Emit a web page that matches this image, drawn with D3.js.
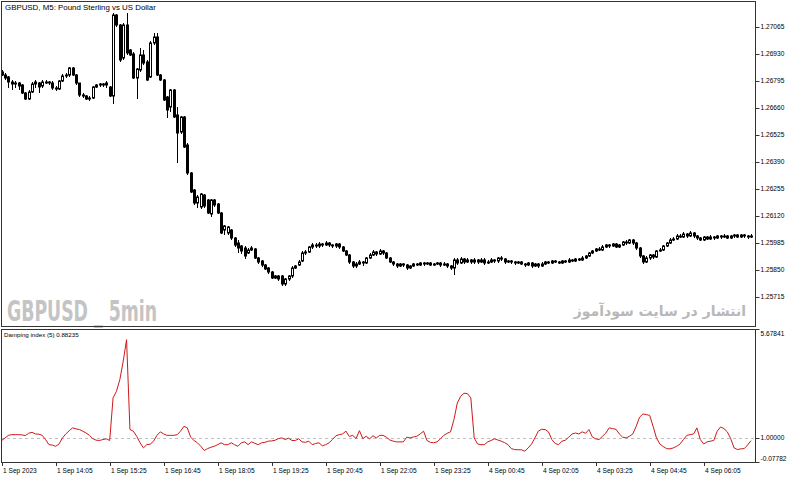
<!DOCTYPE html>
<html>
<head>
<meta charset="utf-8">
<script src="https://cdn.jsdelivr.net/npm/d3@7"></script>
<style>
  body { margin: 0; background: #fff; }
  text { font-family: "Liberation Sans", Arial, sans-serif; }
</style>
</head>
<body>
<div id="chart"></div>
<script>
// GBPUSD M5 candles, 1 Sep 2023 12:45 .. 4 Sep ~07:20
var opens = [1.26840,1.26825,1.26815,1.26790,1.26780,1.26785,1.26775,1.26735,1.26705,1.26740,1.26780,1.26785,1.26770,1.26790,1.26790,1.26785,1.26760,1.26755,1.26795,1.26820,
  1.26825,1.26860,1.26825,1.26785,1.26725,1.26720,1.26705,1.26710,1.26765,1.26775,1.26780,1.26775,1.26765,1.26720,1.27125,1.27075,1.26910,1.27075,1.26950,1.26930,
  1.26810,1.26850,1.26925,1.26890,1.26815,1.26985,1.27015,1.26825,1.26800,1.26715,1.26665,1.26750,1.26625,1.26540,1.26615,1.26475,1.26335,1.26250,1.26185,1.26165,
  1.26225,1.26200,1.26130,1.26200,1.26180,1.26135,1.26050,1.26035,1.26050,1.26010,1.25985,1.25970,1.25960,1.25935,1.25950,1.25955,1.25910,1.25895,1.25875,1.25860,
  1.25840,1.25810,1.25820,1.25820,1.25780,1.25805,1.25820,1.25860,1.25875,1.25895,1.25935,1.25940,1.25965,1.25975,1.25970,1.25980,1.25975,1.25985,1.25975,1.25970,
  1.25980,1.25965,1.25945,1.25925,1.25890,1.25870,1.25880,1.25890,1.25885,1.25910,1.25925,1.25940,1.25930,1.25945,1.25935,1.25910,1.25890,1.25880,1.25870,1.25880,
  1.25875,1.25860,1.25870,1.25880,1.25875,1.25885,1.25880,1.25885,1.25875,1.25880,1.25885,1.25875,1.25880,1.25870,1.25860,1.25900,1.25885,1.25905,1.25890,1.25900,
  1.25890,1.25900,1.25890,1.25900,1.25885,1.25890,1.25900,1.25895,1.25910,1.25905,1.25890,1.25895,1.25890,1.25885,1.25890,1.25880,1.25875,1.25885,1.25870,1.25880,
  1.25870,1.25880,1.25890,1.25885,1.25895,1.25890,1.25885,1.25895,1.25890,1.25900,1.25895,1.25905,1.25900,1.25910,1.25920,1.25935,1.25945,1.25955,1.25950,1.25965,
  1.25975,1.25970,1.25980,1.25965,1.25975,1.25990,1.25985,1.26000,1.25985,1.25960,1.25920,1.25890,1.25910,1.25925,1.25915,1.25945,1.25950,1.25970,1.25985,1.26000,
  1.26005,1.26020,1.26015,1.26030,1.26020,1.26035,1.26020,1.26010,1.26000,1.26015,1.26005,1.26015,1.26010,1.26020,1.26015,1.26020,1.26010,1.26020,1.26025,1.26015,
  1.26025,1.26020,1.26015];
var highs = [1.26850,1.26835,1.26820,1.26800,1.26795,1.26790,1.26780,1.26740,1.26750,1.26790,1.26800,1.26790,1.26800,1.26800,1.26795,1.26795,1.26770,1.26800,1.26830,1.26835,
  1.26865,1.26865,1.26830,1.26785,1.26735,1.26725,1.26720,1.26770,1.26780,1.26785,1.26785,1.26795,1.26770,1.27135,1.27130,1.27080,1.27085,1.27135,1.26955,1.26940,
  1.26860,1.26960,1.26950,1.26900,1.26995,1.27035,1.27035,1.26830,1.26805,1.26720,1.26755,1.26755,1.26665,1.26620,1.26620,1.26485,1.26340,1.26255,1.26225,1.26235,
  1.26230,1.26205,1.26205,1.26205,1.26185,1.26140,1.26075,1.26070,1.26055,1.26015,1.26000,1.25975,1.25970,1.25960,1.25970,1.25960,1.25915,1.25900,1.25880,1.25865,
  1.25845,1.25825,1.25825,1.25825,1.25810,1.25825,1.25870,1.25875,1.25900,1.25945,1.25950,1.25970,1.25985,1.25985,1.25990,1.25985,1.25995,1.25990,1.25980,1.25985,
  1.25985,1.25970,1.25950,1.25930,1.25895,1.25890,1.25900,1.25895,1.25915,1.25935,1.25950,1.25945,1.25955,1.25950,1.25940,1.25915,1.25895,1.25885,1.25885,1.25885,
  1.25880,1.25875,1.25885,1.25885,1.25890,1.25890,1.25890,1.25890,1.25885,1.25890,1.25890,1.25890,1.25885,1.25875,1.25910,1.25910,1.25915,1.25910,1.25910,1.25905,
  1.25910,1.25905,1.25910,1.25910,1.25900,1.25910,1.25905,1.25915,1.25920,1.25910,1.25900,1.25900,1.25895,1.25895,1.25895,1.25885,1.25890,1.25890,1.25885,1.25885,
  1.25890,1.25895,1.25895,1.25900,1.25900,1.25895,1.25900,1.25900,1.25910,1.25905,1.25910,1.25910,1.25920,1.25925,1.25940,1.25950,1.25960,1.25965,1.25975,1.25980,
  1.25980,1.25985,1.25985,1.25980,1.25995,1.26000,1.26005,1.26005,1.25990,1.25965,1.25925,1.25920,1.25930,1.25930,1.25950,1.25960,1.25975,1.25990,1.26010,1.26015,
  1.26030,1.26030,1.26040,1.26035,1.26045,1.26040,1.26025,1.26015,1.26020,1.26020,1.26025,1.26020,1.26025,1.26025,1.26030,1.26025,1.26025,1.26030,1.26030,1.26030,
  1.26030,1.26025,1.26030];
var lows = [1.26820,1.26800,1.26760,1.26750,1.26760,1.26750,1.26730,1.26700,1.26700,1.26735,1.26760,1.26735,1.26760,1.26780,1.26775,1.26750,1.26745,1.26750,1.26790,1.26810,
  1.26815,1.26820,1.26775,1.26715,1.26710,1.26700,1.26695,1.26705,1.26760,1.26765,1.26765,1.26760,1.26715,1.26680,1.27065,1.26890,1.26900,1.26925,1.26920,1.26805,
  1.26705,1.26840,1.26875,1.26795,1.26810,1.26975,1.26820,1.26795,1.26695,1.26610,1.26640,1.26610,1.26385,1.26530,1.26460,1.26325,1.26235,1.26175,1.26160,1.26155,
  1.26160,1.26130,1.26115,1.26165,1.26130,1.26030,1.26025,1.26025,1.26000,1.25965,1.25935,1.25930,1.25905,1.25930,1.25945,1.25905,1.25880,1.25865,1.25850,1.25830,
  1.25805,1.25805,1.25795,1.25770,1.25770,1.25795,1.25810,1.25855,1.25870,1.25890,1.25925,1.25935,1.25955,1.25960,1.25960,1.25965,1.25970,1.25965,1.25960,1.25960,
  1.25955,1.25940,1.25920,1.25880,1.25860,1.25860,1.25875,1.25870,1.25880,1.25905,1.25920,1.25920,1.25925,1.25925,1.25905,1.25885,1.25870,1.25860,1.25865,1.25865,
  1.25850,1.25855,1.25865,1.25870,1.25870,1.25870,1.25875,1.25870,1.25870,1.25875,1.25865,1.25870,1.25860,1.25850,1.25825,1.25875,1.25880,1.25880,1.25885,1.25880,
  1.25880,1.25880,1.25885,1.25875,1.25880,1.25885,1.25885,1.25885,1.25895,1.25880,1.25885,1.25880,1.25875,1.25880,1.25875,1.25865,1.25870,1.25860,1.25865,1.25860,
  1.25865,1.25875,1.25880,1.25880,1.25885,1.25880,1.25880,1.25885,1.25885,1.25890,1.25890,1.25895,1.25895,1.25905,1.25915,1.25930,1.25940,1.25945,1.25945,1.25960,
  1.25960,1.25965,1.25960,1.25960,1.25970,1.25975,1.25980,1.25975,1.25950,1.25910,1.25880,1.25885,1.25900,1.25905,1.25910,1.25940,1.25945,1.25965,1.25980,1.25995,
  1.26000,1.26010,1.26010,1.26010,1.26015,1.26010,1.26000,1.25995,1.25995,1.26000,1.26000,1.26000,1.26005,1.26005,1.26010,1.26005,1.26005,1.26010,1.26010,1.26010,
  1.26010,1.26005,1.26010];
var closes = [1.26825,1.26810,1.26790,1.26780,1.26785,1.26770,1.26735,1.26705,1.26740,1.26780,1.26790,1.26765,1.26790,1.26785,1.26785,1.26760,1.26755,1.26795,1.26820,1.26825,
  1.26860,1.26825,1.26785,1.26725,1.26720,1.26705,1.26710,1.26765,1.26775,1.26780,1.26775,1.26785,1.26720,1.27125,1.27075,1.26900,1.27075,1.26935,1.26925,1.26810,
  1.26855,1.26925,1.26885,1.26800,1.26985,1.27015,1.26825,1.26800,1.26700,1.26650,1.26750,1.26615,1.26535,1.26615,1.26465,1.26335,1.26240,1.26185,1.26215,1.26230,
  1.26170,1.26135,1.26200,1.26175,1.26135,1.26035,1.26070,1.26065,1.26010,1.25975,1.25960,1.25945,1.25920,1.25950,1.25960,1.25910,1.25890,1.25875,1.25855,1.25840,
  1.25810,1.25820,1.25805,1.25780,1.25805,1.25820,1.25860,1.25870,1.25890,1.25935,1.25940,1.25965,1.25975,1.25970,1.25980,1.25975,1.25985,1.25975,1.25970,1.25980,
  1.25965,1.25945,1.25925,1.25890,1.25870,1.25880,1.25890,1.25885,1.25910,1.25925,1.25940,1.25930,1.25945,1.25935,1.25910,1.25890,1.25880,1.25870,1.25880,1.25875,
  1.25860,1.25870,1.25880,1.25875,1.25885,1.25880,1.25885,1.25875,1.25880,1.25885,1.25875,1.25880,1.25870,1.25860,1.25900,1.25885,1.25905,1.25890,1.25900,1.25890,
  1.25900,1.25890,1.25900,1.25885,1.25890,1.25900,1.25895,1.25910,1.25905,1.25890,1.25895,1.25890,1.25885,1.25890,1.25880,1.25875,1.25885,1.25870,1.25880,1.25870,
  1.25880,1.25890,1.25885,1.25895,1.25890,1.25885,1.25895,1.25890,1.25900,1.25895,1.25905,1.25900,1.25910,1.25920,1.25935,1.25945,1.25955,1.25950,1.25965,1.25975,
  1.25970,1.25980,1.25965,1.25975,1.25990,1.25985,1.26000,1.25985,1.25960,1.25920,1.25890,1.25910,1.25925,1.25915,1.25945,1.25950,1.25970,1.25985,1.26000,1.26005,
  1.26020,1.26015,1.26030,1.26020,1.26035,1.26020,1.26010,1.26000,1.26015,1.26005,1.26015,1.26010,1.26020,1.26015,1.26020,1.26010,1.26020,1.26025,1.26015,1.26025,
  1.26020,1.26015,1.26020];

// Damping index (5)
var damping = [0.89,1.00,1.11,1.14,1.14,1.14,1.13,1.10,1.20,1.24,1.17,1.16,1.11,0.93,0.71,0.69,0.64,0.74,1.00,1.17,
  1.31,1.43,1.39,1.36,1.29,1.21,1.11,0.97,0.90,0.89,0.93,0.96,0.89,2.72,3.00,3.50,4.29,5.22,1.36,1.29,
  1.07,0.79,0.57,0.71,0.73,0.86,1.11,1.26,1.17,1.11,1.11,1.11,1.14,1.29,1.50,1.43,1.03,0.89,0.79,0.64,
  0.46,0.54,0.60,0.64,0.71,0.79,0.71,0.71,0.79,0.71,0.64,0.79,0.83,0.71,0.83,0.77,0.71,0.79,0.81,0.86,
  0.87,0.90,0.97,1.00,0.93,0.99,0.89,0.89,0.96,0.83,0.81,0.86,0.71,0.76,0.79,0.66,0.71,0.79,0.93,1.09,
  1.14,1.17,1.29,1.06,1.11,0.97,1.31,0.97,1.07,0.96,1.09,1.00,1.11,1.11,1.03,0.91,0.86,0.83,0.83,0.83,
  1.03,1.00,1.04,1.07,1.17,1.29,0.89,0.81,0.79,0.83,0.96,1.11,1.20,1.26,1.79,2.50,2.79,2.92,2.90,2.72,
  1.00,0.74,0.71,0.71,0.83,0.89,0.96,0.91,0.86,0.80,0.71,0.54,0.50,0.49,0.49,0.43,0.57,0.74,1.00,1.29,
  1.37,1.36,1.26,0.93,0.76,0.71,0.86,0.90,1.03,1.17,1.21,1.17,1.26,1.20,1.36,1.04,0.96,0.93,1.07,1.21,
  1.43,1.40,1.37,1.17,1.03,1.00,1.07,1.17,1.50,1.89,2.03,2.00,1.97,1.50,1.00,0.74,0.63,0.54,0.53,0.57,
  0.64,0.74,0.93,1.11,1.14,1.17,1.43,0.93,0.74,0.83,0.86,0.89,1.29,1.47,1.40,1.26,0.97,0.57,0.50,0.53,
  0.54,0.69,0.88235];

var priceTicks = [1.27065,1.26930,1.26795,1.26660,1.26525,1.26390,1.26255,1.26120,1.25985,1.25850,1.25715];
var dampTicks = [5.67841,1.00000,-0.07782];
var timeLabels = ["1 Sep 2023","1 Sep 14:05","1 Sep 15:25","1 Sep 16:45","1 Sep 18:05","1 Sep 19:25","1 Sep 20:45",
  "1 Sep 22:05","1 Sep 23:25","4 Sep 00:45","4 Sep 02:05","4 Sep 03:25","4 Sep 04:45","4 Sep 06:05"];
var labelEvery = 16; // bars between time labels

var width = 800, height = 481;
var left = 1, right = 755;
var mainTop = 1, mainBottom = 326;
var subTop = 329, subBottom = 462;

var svg = d3.select("#chart").append("svg")
    .attr("width", width)
    .attr("height", height);

var x = d3.scaleLinear()
    .domain([0, closes.length - 1])
    .range([1.7, 1.7 + (closes.length - 1) * 3.375]);

var y = d3.scaleLinear()
    .domain([1.2557, 1.27195])
    .range([mainBottom, mainTop]);

var yd = d3.scaleLinear()
    .domain([-0.07782, 5.67841])
    .range([463, 329]);

var bars = d3.range(closes.length).map(function(i) {
    return { i: i, o: opens[i], h: highs[i], l: lows[i], c: closes[i] };
});

// watermarks (under the candles)
svg.append("text")
    .attr("x", 7)
    .attr("y", 321)
    .attr("textLength", 150)
    .attr("lengthAdjust", "spacingAndGlyphs")
    .style("font-family", "'Liberation Sans Narrow', 'DejaVu Sans Condensed', sans-serif")
    .style("font-weight", "bold")
    .style("font-size", "28px")
    .attr("fill", "#c4c4c4")
    .text("GBPUSD _ 5min");

svg.append("text")
    .attr("x", 746)
    .attr("y", 316)
    .attr("text-anchor", "end")
    .style("font-family", "'DejaVu Sans', sans-serif")
    .style("font-weight", "bold")
    .style("font-size", "14px")
    .attr("fill", "#b8b8b8")
    .text("انتشار در سایت سودآموز");

// candles
var cg = svg.append("g");
cg.selectAll("line")
    .data(bars)
    .enter().append("line")
    .attr("x1", function(d) { return Math.round(x(d.i)) + 0.5; })
    .attr("x2", function(d) { return Math.round(x(d.i)) + 0.5; })
    .attr("y1", function(d) { return y(d.h); })
    .attr("y2", function(d) { return y(d.l); })
    .attr("stroke", "#000")
    .attr("stroke-width", 1);

cg.selectAll("rect")
    .data(bars)
    .enter().append("rect")
    .attr("x", function(d) { return Math.round(x(d.i)) - 0.5; })
    .attr("y", function(d) { return y(Math.max(d.o, d.c)); })
    .attr("width", 2)
    .attr("height", function(d) { return Math.max(1, Math.abs(y(d.o) - y(d.c))); })
    .attr("fill", function(d) { return d.c >= d.o ? "#fff" : "#000"; })
    .attr("stroke", "#000")
    .attr("stroke-width", 1);

// damping index
svg.append("line")
    .attr("x1", left).attr("x2", right)
    .attr("y1", Math.round(yd(1)) + 0.5).attr("y2", Math.round(yd(1)) + 0.5)
    .attr("stroke", "#c0c0c0")
    .attr("stroke-dasharray", "3,3");

svg.append("path")
    .datum(damping)
    .attr("fill", "none")
    .attr("stroke", "#d01818")
    .attr("stroke-width", 1)
    .attr("d", d3.line()
        .x(function(d, i) { return x(i); })
        .y(function(d) { return yd(d); }));

// frames
svg.append("rect")
    .attr("x", left + 0.5).attr("y", mainTop + 0.5)
    .attr("width", right - left).attr("height", mainBottom - mainTop)
    .attr("fill", "none").attr("stroke", "#333");
svg.append("rect")
    .attr("x", left + 0.5).attr("y", subTop + 0.5)
    .attr("width", right - left).attr("height", subBottom - subTop)
    .attr("fill", "none").attr("stroke", "#333");

// price axis
var pa = svg.append("g").attr("transform", "translate(" + (right + 0.5) + ",0)");
pa.selectAll("line")
    .data(priceTicks)
    .enter().append("line")
    .attr("x1", 0).attr("x2", 4)
    .attr("y1", function(d) { return Math.round(y(d)) + 0.5; })
    .attr("y2", function(d) { return Math.round(y(d)) + 0.5; })
    .attr("stroke", "#333");
pa.selectAll("text")
    .data(priceTicks)
    .enter().append("text")
    .attr("x", 5)
    .attr("y", function(d) { return y(d); })
    .attr("dy", "0.35em")
    .style("font-size", "6.6px")
    .text(function(d) { return d.toFixed(5); });

// damping axis
var da = svg.append("g").attr("transform", "translate(" + (right + 0.5) + ",0)");
da.selectAll("line")
    .data(dampTicks)
    .enter().append("line")
    .attr("x1", 0).attr("x2", 4)
    .attr("y1", function(d) { return Math.min(subBottom, Math.max(subTop, Math.round(yd(d)))) + 0.5; })
    .attr("y2", function(d) { return Math.min(subBottom, Math.max(subTop, Math.round(yd(d)))) + 0.5; })
    .attr("stroke", "#333");
da.selectAll("text")
    .data(dampTicks)
    .enter().append("text")
    .attr("x", 5)
    .attr("y", function(d, i) {
        if (i === 0) return subTop + 7;
        if (i === dampTicks.length - 1) return subBottom - 1;
        return yd(d) + 2.3;
    })
    .style("font-size", "6.6px")
    .text(function(d) { return d.toFixed(5); });

// time axis
var ta = svg.append("g");
ta.selectAll("line")
    .data(timeLabels)
    .enter().append("line")
    .attr("x1", function(d, i) { return Math.round(x(i * labelEvery)) + 0.5; })
    .attr("x2", function(d, i) { return Math.round(x(i * labelEvery)) + 0.5; })
    .attr("y1", subBottom).attr("y2", subBottom + 4)
    .attr("stroke", "#333");
ta.selectAll("text")
    .data(timeLabels)
    .enter().append("text")
    .attr("x", function(d, i) { return Math.round(x(i * labelEvery)) + 1; })
    .attr("y", subBottom + 11)
    .style("font-size", "6.6px")
    .text(function(d) { return d; });

// captions
svg.append("text")
    .attr("x", 5).attr("y", 10)
    .style("font-size", "7.9px")
    .text("GBPUSD, M5:  Pound Sterling vs US Dollar");

svg.append("text")
    .attr("x", 4).attr("y", 337)
    .style("font-size", "6.2px")
    .text("Damping index (5) 0.88235");
</script>
</body>
</html>
